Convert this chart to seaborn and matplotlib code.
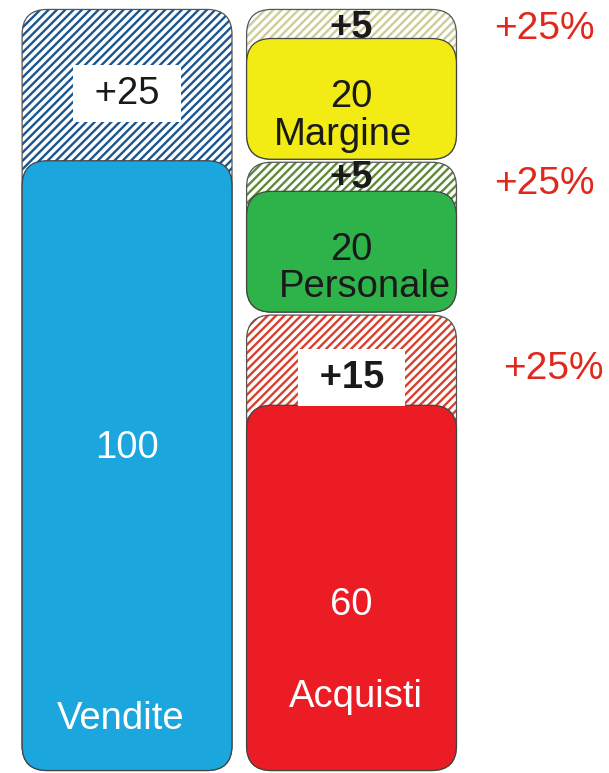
import numpy as np
import pandas as pd
import matplotlib
matplotlib.use("Agg")
import matplotlib.pyplot as plt
import seaborn as sns
from matplotlib.patches import FancyBboxPatch

# ---------------- data ----------------
columns = ["Vendite", "Costi"]
groups = ["Vendite", "Acquisti", "Personale", "Margine"]
group_column = ["Vendite", "Costi", "Costi", "Costi"]
base_values = [100, 60, 20, 20]
increments = [25, 15, 5, 5]
increment_labels = ["+25", "+15", "+5", "+5"]
percent_labels = ["", "+25%", "+25%", "+25%"]

# ---------------- styles ----------------
fill_colors = ["#1ba6de", "#ec1c24", "#2db34a", "#f2eb14"]
hatch_colors = ["#1b558f", "#d8402e", "#5f8a3a", "#cdcd98"]
text_colors = ["white", "white", "#1a1a1a", "#1a1a1a"]
number_frac = [0.53, 0.455, 0.52, 0.52]
name_frac = [0.086, 0.204, 0.22, 0.21]
inc_frac = [0.44, 0.30, 0.45, 0.33]
inc_boxed = [True, True, False, False]
inc_bold = [False, True, True, True]
name_dx = [-0.03, 0.02, 0.06, -0.04]
pct_x = [0, 1.90, 1.86, 1.86]
pct_frac = [0, 0.40, 0.25, 0.30]

sns.set_theme(style="white")
plt.rcParams["font.family"] = ["Liberation Sans", "DejaVu Sans"]
plt.rcParams["hatch.linewidth"] = 1.7

fig = plt.figure(figsize=(6.09, 7.73), dpi=100)
fig.patch.set_facecolor("white")
ax = fig.add_axes([0, 0, 1, 1])

df = pd.DataFrame({"column": group_column, "group": groups,
                   "base": base_values, "inc": increments})
bottoms = []
running = {c: 0 for c in columns}
for c, b, i in zip(group_column, base_values, increments):
    bottoms.append(running[c])
    running[c] += b + i
df["bottom"] = bottoms
df["top"] = df["bottom"] + df["base"] + df["inc"]

XLIM = (-0.566, 2.147)
YLIM = (-0.16, 126.3)

# let seaborn lay out the bars, then read their geometry
geoms = []
for k in range(len(df)):
    n_before = len(ax.patches)
    sns.barplot(data=df.iloc[[k]], x="column", y="top", order=columns,
                width=0.935, errorbar=None, ax=ax, color="white")
    p = ax.patches[n_before]
    geoms.append((p.get_x(), p.get_width()))
for p in list(ax.patches):
    p.remove()

ax.set_xlim(*XLIM)
ax.set_ylim(*YLIM)
ax.axis("off")

fig_w, fig_h = fig.get_size_inches() * fig.dpi
px_per_x = fig_w / (XLIM[1] - XLIM[0])
px_per_y = fig_h / (YLIM[1] - YLIM[0])
asp = px_per_x / px_per_y
r = 25 / px_per_x
gap = 1.5 / px_per_y

fs = 27.5
for k, row in df.iterrows():
    x, w = geoms[k]
    b0 = row["bottom"] + gap
    top = row["top"] - gap
    base_top = row["bottom"] + row["base"]
    style = f"round,pad=0,rounding_size={r}"
    # hatched envelope
    ax.add_patch(FancyBboxPatch((x, b0), w, top - b0, boxstyle=style,
                                mutation_aspect=asp, facecolor="white",
                                edgecolor=hatch_colors[k], linewidth=0,
                                hatch="////", zorder=1))
    ax.add_patch(FancyBboxPatch((x, b0), w, top - b0, boxstyle=style,
                                mutation_aspect=asp, fill=False,
                                edgecolor="#555555", linewidth=0.9, zorder=2))
    # filled base box
    ax.add_patch(FancyBboxPatch((x, b0), w, base_top - b0, boxstyle=style,
                                mutation_aspect=asp, facecolor=fill_colors[k],
                                edgecolor="#444444", linewidth=0.9, zorder=3))
    cx = x + w / 2
    ax.text(cx, row["bottom"] + number_frac[k] * row["base"], str(row["base"]),
            ha="center", va="center", fontsize=fs, color=text_colors[k], zorder=5)
    ax.text(cx + name_dx[k], row["bottom"] + name_frac[k] * row["base"], row["group"],
            ha="center", va="center", fontsize=fs, color=text_colors[k], zorder=5)
    label = increment_labels[k]
    bbox = None
    if inc_boxed[k]:
        label = " " + label + " "
        bbox = dict(boxstyle="square,pad=0.28", facecolor="white", edgecolor="none")
    ax.text(cx, base_top + inc_frac[k] * row["inc"], label,
            ha="center", va="center", fontsize=fs,
            fontweight="bold" if inc_bold[k] else "normal",
            color="#1a1a1a", bbox=bbox, zorder=6)
    if percent_labels[k]:
        ax.text(pct_x[k], base_top + pct_frac[k] * row["inc"], percent_labels[k],
                ha="center", va="center", fontsize=28, color="#e0281c", zorder=6)

fig.savefig("out.png", dpi=100, facecolor="white")
